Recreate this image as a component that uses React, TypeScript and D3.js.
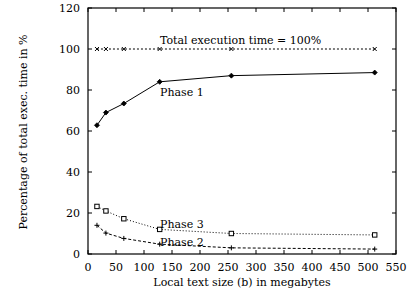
import React from "react";
import * as d3 from "d3";

const sizes = [16, 32, 64, 128, 256, 512];
const totalPct = [100, 100, 100, 100, 100, 100];
const phase1 = [62.8, 69, 73.4, 84, 87, 88.5];
const phase3 = [23.2, 21, 17.2, 12, 10, 9.3];
const phase2 = [14, 10.2, 7.6, 4.8, 3, 2.4];
const xTicks = [0, 50, 100, 150, 200, 250, 300, 350, 400, 450, 500, 550];
const yTicks = [0, 20, 40, 60, 80, 100, 120];

const W = 408, H = 295;
const L = 88, R = 396, T = 8, B = 254;
const font = '"DejaVu Serif", serif';

export default function App() {
  const x = d3.scaleLinear().domain([0, 550]).range([L, R]);
  const y = d3.scaleLinear().domain([0, 120]).range([B, T]);
  const line = d3.line<number>().x((_, i) => x(sizes[i])).y((d) => y(d));

  const series = [
    { data: totalPct, dash: "2,2", marker: "x" },
    { data: phase1, dash: "", marker: "diamond" },
    { data: phase3, dash: "1,2", marker: "square" },
    { data: phase2, dash: "3,2", marker: "plus" },
  ];

  const ts: React.CSSProperties = { fontFamily: font, fontSize: "11px" };

  const marker = (kind: string, cx: number, cy: number, k: number) => {
    if (kind === "x")
      return <path key={k} d={`M${cx - 2},${cy - 2}L${cx + 2},${cy + 2}M${cx - 2},${cy + 2}L${cx + 2},${cy - 2}`} stroke="#000" strokeWidth={1} />;
    if (kind === "diamond")
      return <path key={k} d={`M${cx},${cy - 2.5}L${cx + 2.5},${cy}L${cx},${cy + 2.5}L${cx - 2.5},${cy}Z`} fill="#000" stroke="#000" strokeWidth={0.8} />;
    if (kind === "square")
      return <rect key={k} x={cx - 2.2} y={cy - 2.2} width={4.4} height={4.4} fill="#fff" stroke="#000" strokeWidth={1} />;
    return <path key={k} d={`M${cx - 2.5},${cy}L${cx + 2.5},${cy}M${cx},${cy - 2.5}L${cx},${cy + 2.5}`} stroke="#000" strokeWidth={1} />;
  };

  return (
    <svg width={W} height={H} style={{ position: "absolute", left: 0, top: 0, background: "#fff", fontFamily: font }}>
      <rect x={0} y={0} width={W} height={H} fill="#fff" />
      {xTicks.map((t) => (
        <g key={"x" + t}>
          <line x1={x(t)} x2={x(t)} y1={B} y2={B - 4} stroke="#000" />
          <line x1={x(t)} x2={x(t)} y1={T} y2={T + 4} stroke="#000" />
          <text x={x(t)} y={271} style={ts} textAnchor="middle">{t}</text>
        </g>
      ))}
      {yTicks.map((t) => (
        <g key={"y" + t}>
          <line x1={L} x2={L + 4} y1={y(t)} y2={y(t)} stroke="#000" />
          <line x1={R} x2={R - 4} y1={y(t)} y2={y(t)} stroke="#000" />
          <text x={80} y={y(t) + 4} style={ts} textAnchor="end">{t}</text>
        </g>
      ))}
      {series.map((s, si) => (
        <g key={si}>
          <path d={line(s.data) || ""} fill="none" stroke="#000" strokeWidth={1} strokeDasharray={s.dash || undefined} />
          {s.data.map((v, i) => marker(s.marker, x(sizes[i]), y(v), i))}
        </g>
      ))}
      <rect x={L} y={T} width={R - L} height={B - T} fill="none" stroke="#000" strokeWidth={1.2} />
      <text x={160} y={44} style={ts}>Total execution time = 100%</text>
      <text x={160} y={96} style={ts}>Phase 1</text>
      <text x={160} y={228} style={ts}>Phase 3</text>
      <text x={160} y={246} style={ts}>Phase 2</text>
      <text x={242} y={286} style={ts} textAnchor="middle">Local text size (b) in megabytes</text>
      <text transform={`translate(27,132) rotate(-90)`} style={ts} textAnchor="middle">Percentage of total exec. time in %</text>
    </svg>
  );
}
